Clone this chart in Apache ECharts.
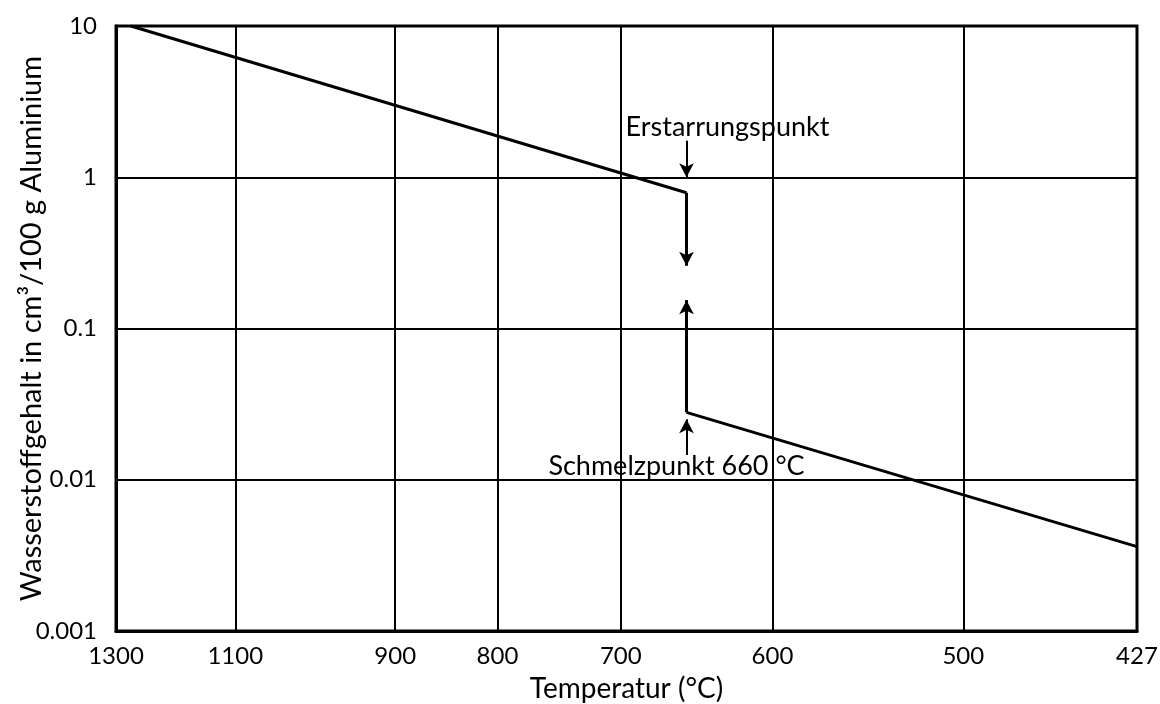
<!DOCTYPE html>
<html><head><meta charset="utf-8">
<script src="https://cdn.jsdelivr.net/npm/echarts@6/dist/echarts.min.js"></script>
<style>html,body{margin:0;padding:0;background:#fff}#c{width:1160px;height:704px}</style>
</head><body><div id="c"></div>
<script>
// ---- data ----
const tempTicks = [1300, 1100, 900, 800, 700, 600, 500, 427];   // °C, x tick labels
const yTicks = [0.001, 0.01, 0.1, 1, 10];
const liquidTemp = [1272, 654];          // °C
const liquidH2 = [10, 0.79];             // cm3/100 g
const solidTemp = [654, 427];
const solidH2 = [0.0279, 0.00361];
const meltTemp = 654;
const dropTo = 0.26;                     // arrow from liquid end downward
const riseTo = 0.154;                    // arrow from solid start upward
const annoText = ['Erstarrungspunkt', 'Schmelzpunkt 660 °C'];
const annoFrom = [1.745, 0.0146];
const annoTo = [1.0, 0.0251];

// reciprocal absolute temperature scale (1000/K)
const toX = t => 1000 / (t + 273);
const FONT = 'Lato';

const liquidData = liquidTemp.map((t, i) => [toX(t), liquidH2[i]]);
const solidData = solidTemp.map((t, i) => [toX(t), solidH2[i]]);

function arrow(t, from, to) {
  return [
    { coord: [toX(t), from], symbol: 'none' },
    { coord: [toX(t), to], symbol: 'arrow', symbolSize: [11, 14] }
  ];
}

const chart = echarts.init(document.getElementById('c'), null, { renderer: 'canvas' });
chart.setOption({
  animation: false,
  backgroundColor: '#fff',
  grid: {
    left: 116, top: 26, width: 1021, height: 605,
    outerBoundsMode: 'none', containLabel: false,
    show: true, borderColor: '#000', borderWidth: 3, backgroundColor: 'transparent'
  },
  xAxis: {
    type: 'value',
    min: toX(tempTicks[0]),
    max: toX(tempTicks[tempTicks.length - 1]),
    name: 'Temperatur (°C)',
    nameLocation: 'middle',
    nameGap: 44,
    nameMoveOverlap: false,
    nameTextStyle: { fontFamily: FONT, fontSize: 28, color: '#000' },
    axisLine: { show: true, lineStyle: { color: '#000', width: 3 } },
    axisTick: { show: false, customValues: tempTicks.map(toX) },
    axisLabel: {
      customValues: tempTicks.map(toX),
      formatter: v => String(Math.round(1000 / v - 273)),
      fontFamily: FONT, fontSize: 24, color: '#000', margin: 13,
      showMinLabel: true, showMaxLabel: true
    },
    splitLine: { show: true, lineStyle: { color: '#000', width: 2 } }
  },
  yAxis: {
    type: 'log',
    logBase: 10,
    min: yTicks[0],
    max: yTicks[yTicks.length - 1],
    name: 'Wasserstoffgehalt in cm³/100 g Aluminium',
    nameLocation: 'middle',
    nameGap: 70,
    nameMoveOverlap: false,
    nameTextStyle: { fontFamily: FONT, fontSize: 29, color: '#000' },
    axisLine: { show: true, lineStyle: { color: '#000', width: 3 } },
    axisTick: { show: false },
    axisLabel: {
      formatter: v => String(Number(Number(v).toPrecision(1))),
      fontFamily: FONT, fontSize: 24, color: '#000', margin: 19
    },
    splitLine: { show: true, lineStyle: { color: '#000', width: 2 } }
  },
  series: [
    {
      type: 'line', name: 'flüssig', data: liquidData, showSymbol: false, symbol: 'none',
      lineStyle: { color: '#000', width: 3 }, silent: true,
      markLine: {
        silent: true, animation: false,
        lineStyle: { color: '#000', width: 3, type: 'solid' },
        label: { show: false },
        data: [arrow(meltTemp, liquidH2[1], dropTo)]
      }
    },
    {
      type: 'line', name: 'fest', data: solidData, showSymbol: false, symbol: 'none',
      lineStyle: { color: '#000', width: 3 }, silent: true,
      markLine: {
        silent: true, animation: false,
        lineStyle: { color: '#000', width: 3, type: 'solid' },
        label: { show: false },
        data: [arrow(meltTemp, solidH2[0], riseTo)]
      }
    },
    {
      type: 'line', name: 'annotations', data: [], silent: true,
      markLine: {
        silent: true, animation: false,
        lineStyle: { color: '#000', width: 2, type: 'solid' },
        label: { show: false },
        data: annoText.map((s, i) => arrow(meltTemp, annoFrom[i], annoTo[i]))
      },
      markPoint: {
        silent: true, animation: false,
        symbol: 'circle', symbolSize: 0,
        itemStyle: { color: 'transparent' },
        data: [
          { coord: [toX(meltTemp), annoFrom[0]], label: { show: true, formatter: annoText[0], offset: [41, -13], fontFamily: FONT, fontSize: 27, color: '#000' } },
          { coord: [toX(meltTemp), annoFrom[1]], label: { show: true, formatter: annoText[1], offset: [-10, 11], fontFamily: FONT, fontSize: 27, color: '#000' } }
        ]
      }
    }
  ]
});
</script></body></html>
